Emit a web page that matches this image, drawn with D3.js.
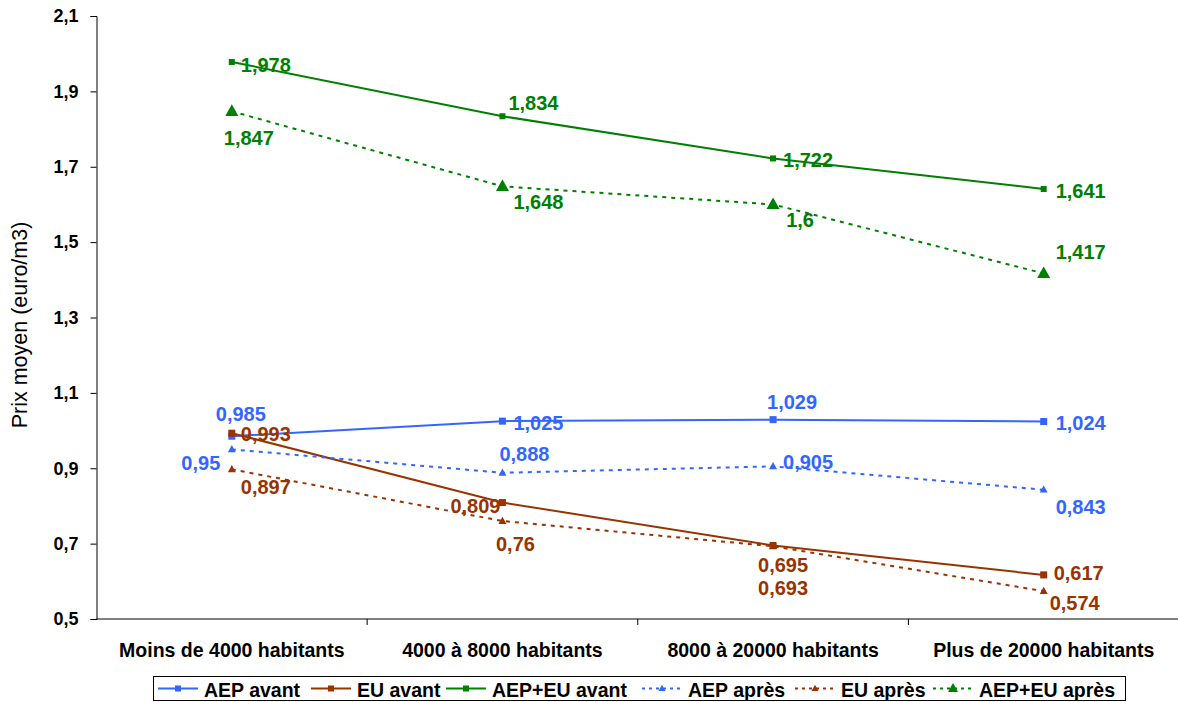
<!DOCTYPE html>
<html><head><meta charset="utf-8">
<script src="https://cdn.jsdelivr.net/npm/d3@7"></script>
<style>body{margin:0;background:#fff}svg{display:block;font-family:"Liberation Sans",Arial,sans-serif}</style>
</head><body>
<svg id="c" width="1178" height="702"></svg>
<script>
const categories = ["Moins de 4000 habitants","4000 à 8000 habitants","8000 à 20000 habitants","Plus de 20000 habitants"];
const aepAvant   = [0.985, 1.025, 1.029, 1.024];
const euAvant    = [0.993, 0.809, 0.695, 0.617];
const totAvant   = [1.978, 1.834, 1.722, 1.641];
const aepApres   = [0.95, 0.888, 0.905, 0.843];
const euApres    = [0.897, 0.76, 0.693, 0.574];
const totApres   = [1.847, 1.648, 1.6, 1.417];
const yTicks     = [0.5, 0.7, 0.9, 1.1, 1.3, 1.5, 1.7, 1.9, 2.1];
const seriesNames = ["AEP avant","EU avant","AEP+EU avant","AEP après","EU après","AEP+EU après"];

const series = [
  {name: seriesNames[0], values: aepAvant, color:"#3366FF", dash:null, marker:"square", ms:7,
   off:[[9,-22],[36,2],[19,-18],[37,1.5]]},
  {name: seriesNames[1], values: euAvant, color:"#993300", dash:null, marker:"square", ms:7,
   off:[[34,1],[-27,3],[10,19],[35,-2]]},
  {name: seriesNames[2], values: totAvant, color:"#008000", dash:null, marker:"square", ms:6,
   off:[[34,3],[31,-13],[35,1.5],[37,2]]},
  {name: seriesNames[3], values: aepApres, color:"#3366FF", dash:"4,5", marker:"tri", ms:8,
   off:[[-31,14],[22,-19],[35,-4],[37,17]]},
  {name: seriesNames[4], values: euApres, color:"#993300", dash:"4,5", marker:"tri", ms:8,
   off:[[34,18],[13,23],[10,42],[31,12]]},
  {name: seriesNames[5], values: totApres, color:"#008000", dash:"4,5", marker:"tri", ms:13,
   off:[[17,27],[36,16],[27,16],[37,-21]]}
];

const FF = "Liberation Sans, Arial, sans-serif";
const svg = d3.select("#c");
const L = 96.5, R = 1179, T = 16, B = 619;
const x = d3.scaleBand().domain(categories).range([L, R]);
const y = d3.scaleLinear().domain([0.5, 2.1]).range([B, T]);
const fmt = v => String(v).replace(".", ",");

// y axis
const ya = svg.append("g").attr("transform", `translate(${L},0)`)
  .call(d3.axisLeft(y).tickValues(yTicks).tickSize(6).tickPadding(12).tickFormat(d => d3.format(".1f")(d).replace(".", ",")));
ya.select(".domain").attr("stroke","#000");
ya.selectAll(".tick line").attr("stroke","#000");
ya.selectAll("text").attr("font-size",18).attr("font-weight","bold").attr("fill","#000").attr("font-family",FF);

// x axis
const xa = svg.append("g").attr("transform", `translate(0,${B})`)
  .call(d3.axisBottom(x).tickSize(0).tickPadding(24));
xa.select(".domain").attr("stroke","#000").attr("d", `M${L},0H${R}`);
xa.selectAll("text").attr("font-size",19.5).attr("font-weight","bold").attr("fill","#000").attr("font-family",FF);
svg.append("g").selectAll("line").data(categories.slice(1)).join("line")
  .attr("x1", d => x(d)).attr("x2", d => x(d)).attr("y1", B).attr("y2", B + 6).attr("stroke","#000");

// y title
svg.append("text").attr("transform", `translate(27,325) rotate(-90)`)
  .attr("text-anchor","middle").attr("font-size",21.5).attr("fill","#000").text("Prix moyen (euro/m3)");

const cx = i => x(categories[i]) + x.bandwidth()/2;
const line = d3.line().x((d,i) => cx(i)).y(d => y(d));

function drawMarker(g, type, px, py, s, color) {
  if (type === "square") {
    g.append("rect").attr("x", px - s/2).attr("y", py - s/2).attr("width", s).attr("height", s).attr("fill", color);
  } else {
    const h = s * 0.9;
    g.append("path").attr("d", `M${px},${py - h*0.6}L${px + s/2},${py + h*0.4}L${px - s/2},${py + h*0.4}Z`).attr("fill", color);
  }
}

const plot = svg.append("g");
series.forEach(s => {
  plot.append("path").datum(s.values).attr("d", line).attr("fill","none")
    .attr("stroke", s.color).attr("stroke-width", 2).attr("stroke-dasharray", s.dash);
});
series.forEach(s => {
  s.values.forEach((v, i) => drawMarker(plot, s.marker, cx(i), y(v), s.ms, s.color));
});
series.forEach(s => {
  s.values.forEach((v, i) => {
    plot.append("text").attr("x", cx(i) + s.off[i][0]).attr("y", y(v) + s.off[i][1])
      .attr("text-anchor","middle").attr("dominant-baseline","central")
      .attr("font-size",20).attr("font-weight","bold").attr("fill", s.color).text(fmt(v));
  });
});

// legend
const lg = svg.append("g");
lg.append("rect").attr("x",153.5).attr("y",676.5).attr("width",972).attr("height",24)
  .attr("fill","#fff").attr("stroke","#000").attr("stroke-width",1);
const legX = [158, 311, 446, 642, 795, 933];
series.forEach((s, i) => {
  const gx = legX[i], gy = 688.5;
  lg.append("line").attr("x1", gx).attr("x2", gx + 40).attr("y1", gy).attr("y2", gy)
    .attr("stroke", s.color).attr("stroke-width", 2).attr("stroke-dasharray", s.dash ? "3,4" : null);
  drawMarker(lg, s.marker, gx + 20, gy, s.marker === "square" ? 6 : (s.ms > 10 ? 10 : 7), s.color);
  lg.append("text").attr("x", gx + 46).attr("y", gy + 1).attr("dominant-baseline","central")
    .attr("font-size",19.5).attr("font-weight","bold").attr("fill","#000").attr("font-family",FF).text(s.name);
});
</script>
</body></html>
